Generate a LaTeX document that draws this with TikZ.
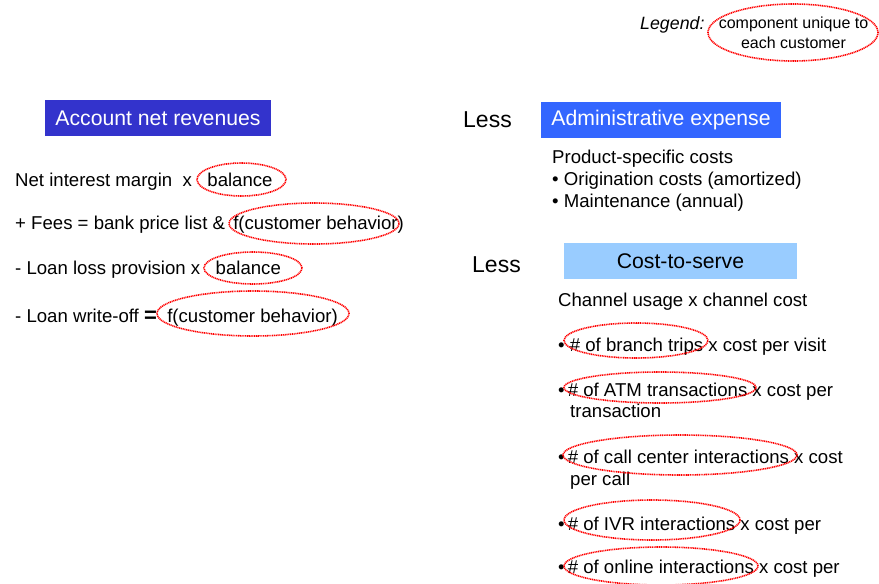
\documentclass[tikz,border=0pt]{standalone}
\usepackage{fontspec}
\setmainfont{Liberation Sans}
\usetikzlibrary{positioning, shapes.geometric}

\begin{document}
\begin{tikzpicture}[x=1pt, y=-1pt,
      head/.style={inner sep=0pt, minimum height=36pt, align=center, font=\fontsize{21.2}{25}\selectfont},
      txt/.style={anchor=base west, inner sep=0pt, font=\fontsize{18.6}{22}\selectfont},
      less/.style={anchor=base west, inner sep=0pt, font=\fontsize{23}{27}\selectfont},
      uniq/.style={ellipse, draw=red, dash pattern=on 1.1pt off 0.7pt, line width=1.6pt, inner sep=0pt}]
      \useasboundingbox (0,0) rectangle (879,584);
      % legend
      \node[anchor=base west, inner sep=0pt, font=\fontsize{17.8}{21}\selectfont\itshape] (leg) at (640,29) {Legend:};
      \node[uniq, minimum width=170pt, minimum height=57pt] (legOv) at (793,32.5) {};
      \node[align=center, inner sep=0pt, font=\fontsize{16}{20.5}\selectfont] (legTx) at (793.5,33) {component unique to\\each customer};
      % headings
      \node[head, fill={rgb,255:red,51;green,51;blue,204}, text=white, minimum width=226pt] (rev) at (158,118) {Account net revenues};
      \node[head, fill={rgb,255:red,51;green,102;blue,255}, text=white, minimum width=240pt] (adm) at (661,120) {Administrative expense};
      \node[head, fill={rgb,255:red,153;green,204;blue,255}, minimum width=233pt] (cts) at (680.5,261) {Cost-to-serve};
      \node[less] (lessA) at (463,127) {Less};
      \node[less] (lessB) at (472,272) {Less};
      % revenues
      \node[txt] (nim) at (15,186) {Net interest margin \ x \ \ balance};
      \node[txt] (fee) at (15,229) {+ Fees = bank price list \& \,f(customer behavior)};
      \node[txt] (llp) at (15,274) {- Loan loss provision x \ \ balance};
      \node[txt] (lwo) at (15,322) {- Loan write-off {\fontsize{22}{22}\selectfont\textbf{=}} \ f(customer behavior)};
      \node[uniq, minimum width=89pt, minimum height=33pt] (ovNim) at (241.5,179.5) {};
      \node[uniq, minimum width=170pt, minimum height=41pt] (ovFee) at (314,223.5) {};
      \node[uniq, minimum width=98pt, minimum height=32pt] (ovLlp) at (253,268) {};
      \node[uniq, minimum width=192pt, minimum height=45pt] (ovLwo) at (253,313.5) {};
      % administrative expense
      \node[txt] (psc) at (552,163) {Product-specific costs};
      \node[txt] (org) at (552,185) {\textbullet\ Origination costs (amortized)};
      \node[txt] (mnt) at (552,207) {\textbullet\ Maintenance (annual)};
      % cost-to-serve
      \node[txt] (chn) at (558,306) {Channel usage x channel cost};
      \node[txt] (brn) at (558,351) {\textbullet\ \# of branch trips x cost per visit};
      \node[txt] (atm) at (558,396) {\textbullet\,\# of ATM transactions x cost per};
      \node[txt] (atmB) at (570,417) {transaction};
      \node[txt] (cal) at (558,463) {\textbullet\,\# of call center interactions x cost};
      \node[txt] (calB) at (570,485) {per call};
      \node[txt] (ivr) at (558,530) {\textbullet\,\# of IVR interactions x cost per};
      \node[txt] (onl) at (558,573) {\textbullet\,\# of online interactions x cost per};
      \node[uniq, minimum width=144pt, minimum height=35pt] (ovBrn) at (636,340.5) {};
      \node[uniq, minimum width=192pt, minimum height=31pt] (ovAtm) at (660,387.5) {};
      \node[uniq, minimum width=234pt, minimum height=40pt] (ovCal) at (680,455) {};
      \node[uniq, minimum width=176pt, minimum height=40pt] (ovIvr) at (652,520) {};
      \node[uniq, minimum width=194pt, minimum height=38pt] (ovOnl) at (661,566) {};
    \end{tikzpicture}
\end{document}
